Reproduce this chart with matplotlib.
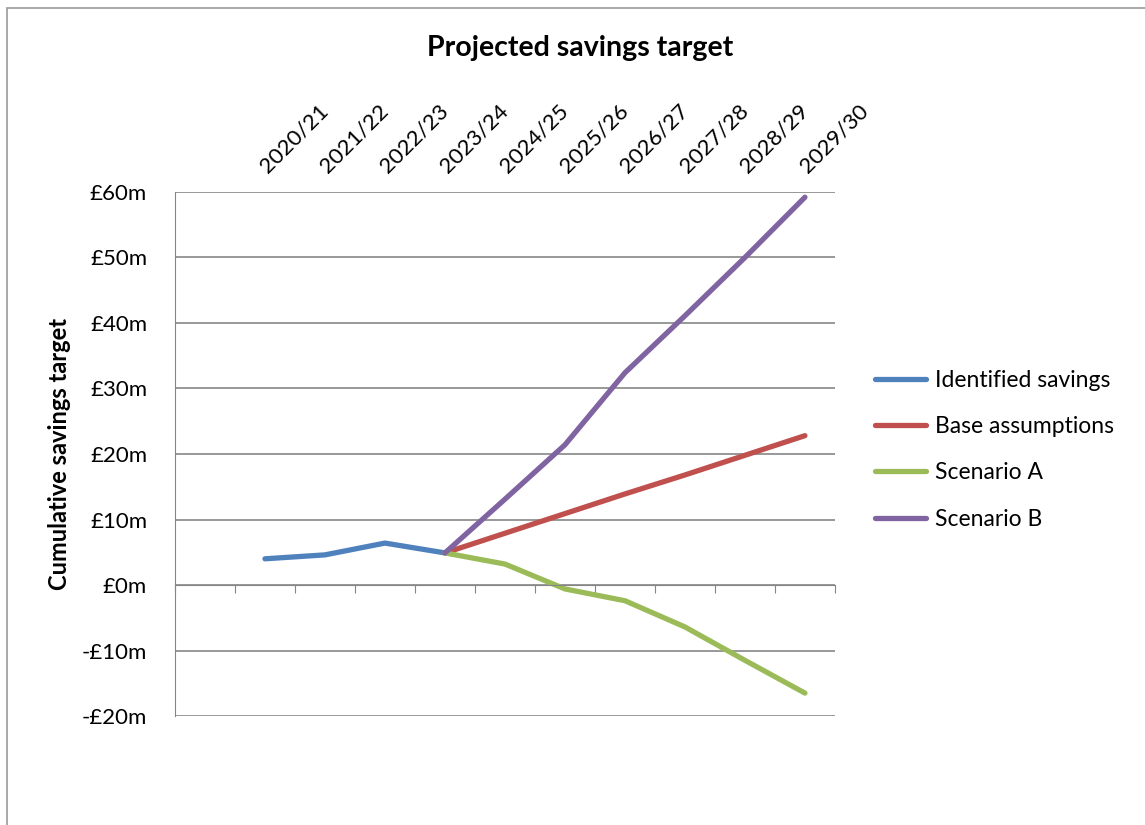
import numpy as np
import matplotlib
matplotlib.use("Agg")
import matplotlib.pyplot as plt
from matplotlib.patches import Rectangle

plt.rcParams['font.family'] = ['Lato', 'DejaVu Sans']

# first category is left blank in the original chart
years = ["", "2020/21", "2021/22", "2022/23", "2023/24", "2024/25",
         "2025/26", "2026/27", "2027/28", "2028/29", "2029/30"]
nan = np.nan
identified = [nan, 4.0, 4.6, 6.4, 4.9, nan, nan, nan, nan, nan, nan]
base = [nan, nan, nan, nan, 4.9, 7.9, 10.9, 13.9, 16.8, 19.8, 22.8]
scen_a = [nan, nan, nan, nan, 4.9, 3.2, -0.6, -2.4, -6.4, -11.5, -16.5]
scen_b = [nan, nan, nan, nan, 4.9, 13.1, 21.4, 32.4, 41.1, 50.0, 59.2]

series = [("Identified savings", identified, "#4F81BD"),
          ("Base assumptions", base, "#C0504D"),
          ("Scenario A", scen_a, "#9BBB59"),
          ("Scenario B", scen_b, "#8064A2")]

fig = plt.figure(figsize=(11.45, 8.25), dpi=100)
ax = fig.add_axes([0.1528, 0.1321, 0.5764, 0.6352])

x = np.arange(len(years))
for name, vals, col in series:
    ax.plot(x, vals, color=col, lw=3.8, label=name, solid_capstyle='round')

ax.set_xlim(-0.5, len(years) - 0.5)
ax.set_ylim(-20, 60)
ax.set_yticks(np.arange(-20, 61, 10))
ax.set_yticklabels([("-£%dm" % -v) if v < 0 else ("£%dm" % v) for v in range(-20, 61, 10)],
                   fontsize=16)
ax.yaxis.grid(True, color="#868686", lw=1.2)
ax.set_axisbelow(True)

# category axis runs along zero, with ticks between categories
ax.spines['bottom'].set_position(('data', 0))
ax.spines['bottom'].set_color("#868686")
ax.spines['left'].set_color("#868686")
ax.spines['top'].set_visible(False)
ax.spines['right'].set_visible(False)
ax.set_xticks(np.arange(-0.5, len(years), 1.0))
ax.set_xticklabels([])
ax.tick_params(axis='x', direction='out', length=6, color="#868686")
ax.tick_params(axis='y', length=0, pad=20)

for i, lab in enumerate(years):
    ax.text(i + 0.1, 1.03, lab, transform=ax.get_xaxis_transform(), rotation=45,
            rotation_mode='anchor', ha='left', va='bottom', fontsize=16)

ax.set_ylabel("Cumulative savings target", fontsize=17, fontweight='bold', labelpad=8)
fig.text(0.507, 0.942, "Projected savings target", ha='center', va='center',
         fontsize=20.5, fontweight='bold')

ax.legend(loc='center left', bbox_to_anchor=(1.03, 0.508), frameon=False,
          fontsize=16.5, handlelength=2.2, handletextpad=0.4, labelspacing=1.1)

fig.patches.append(Rectangle((0.006, -0.01), 1.1, 1.0, transform=fig.transFigure,
                             fill=False, edgecolor="#9a9a9a", lw=1.2))

fig.savefig("out.png", dpi=100)
